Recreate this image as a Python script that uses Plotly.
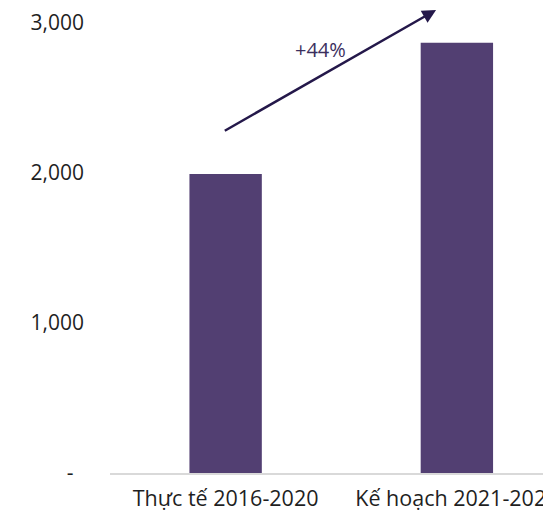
import plotly.graph_objects as go

categories = ["Thực tế 2016-2020", "Kế hoạch 2021-2025"]
values = [1990, 2865]
tick_vals = [0, 1000, 2000, 3000]
tick_text = ["-\u2002", "1,000", "2,000", "3,000"]
growth_label = "+44%"

bar_color = "#523f72"
arrow_color = "#24184a"
font_family = "'Open Sans', 'Noto Sans', sans-serif"

fig = go.Figure()
fig.add_trace(go.Bar(
    x=categories, y=values,
    marker=dict(color=bar_color, line=dict(width=0)),
    width=0.313,
))

fig.add_annotation(
    x=0.91, y=3083, ax=-0.01, ay=2273,
    xref="x", yref="y", axref="x", ayref="y",
    text="", showarrow=True,
    arrowhead=2, arrowsize=1.1, arrowwidth=2.5, arrowcolor=arrow_color,
)
fig.add_annotation(
    x=0.41, y=2820, xref="x", yref="y",
    text=growth_label, showarrow=False,
    font=dict(family=font_family, size=20, color="#3b2f5e"),
)

fig.update_layout(
    width=543, height=504,
    margin=dict(l=102, r=0, t=0, b=39, autoexpand=False),
    paper_bgcolor="white", plot_bgcolor="white",
    showlegend=False,
    font=dict(family=font_family, size=18, color="#1f1f1f"),
    xaxis=dict(
        type="category", range=[-0.5, 1.407], automargin=False,
        showline=True, linecolor="#d9d9d9", linewidth=1.5,
        showgrid=False, ticks="", ticklabelstandoff=5,
        ticklabeloverflow="allow",
        tickfont=dict(size=21.5, color="#1f1f1f"),
    ),
    yaxis=dict(
        range=[0, 3096], tickvals=tick_vals, ticktext=tick_text,
        automargin=False, ticklabeloverflow="allow",
        showgrid=False, zeroline=False, showline=False, ticks="",
        ticklabelstandoff=25,
        tickfont=dict(size=21, color="#1f1f1f"),
    ),
)

fig.write_html("out.html")
